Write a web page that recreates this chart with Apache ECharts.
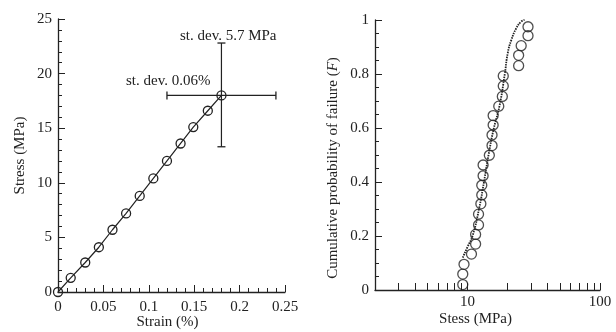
<!DOCTYPE html>
<html>
<head>
<meta charset="utf-8">
<script src="https://cdn.jsdelivr.net/npm/echarts@6/dist/echarts.min.js"></script>
<style>
  html, body { margin: 0; padding: 0; background: #fff; }
  #chart { width: 616px; height: 332px; }
</style>
</head>
<body>
<div id="chart"></div>
<script>
// left panel: stress-strain
const strain = [0, 0.014, 0.030, 0.045, 0.060, 0.075, 0.090, 0.105, 0.120, 0.135, 0.149, 0.165, 0.180]
const stress = [0, 1.3, 2.7, 4.1, 5.7, 7.2, 8.8, 10.4, 12.0, 13.6, 15.1, 16.6, 18.0]
const strainErr = [0.12, 0.24]
const stressErr = [13.3, 22.8]

// right panel: cumulative probability of failure
const failStress = [9.2, 9.2, 9.4, 10.7, 11.5, 11.5, 12.1, 12.1, 12.6, 12.8, 12.8, 13.1, 13.1,
  14.6, 15.3, 15.3, 15.6, 15.6, 17.2, 18.3, 18.6, 18.6, 24.3, 24.3, 25.4, 28.6, 28.6]
const failProb = [0.02, 0.059, 0.095, 0.133, 0.17, 0.206, 0.241, 0.281, 0.319, 0.352, 0.388, 0.423, 0.463,
  0.499, 0.535, 0.574, 0.611, 0.646, 0.681, 0.717, 0.756, 0.793, 0.831, 0.869, 0.905, 0.942, 0.975]
const fitStress = [9.2, 10, 10.9, 12.2, 13.3, 14.4, 15.8, 17.4, 19.1, 20.1, 21.4, 23.3, 25.4, 26.9]
const fitProb = [0.12, 0.16, 0.2, 0.3, 0.4, 0.5, 0.6, 0.68, 0.8, 0.877, 0.926, 0.969, 0.994, 1.0]

const logTicks = [2, 3, 4, 5, 6, 7, 8, 9, 10, 20, 30, 40, 50, 60, 70, 80, 90, 100]

const font = 'Liberation Serif'
const ink = '#222'

const axisCommon = {
  nameMoveOverlap: false,
  axisLine: { lineStyle: { color: ink, width: 1.3 } },
  axisTick: { inside: true, length: 7, lineStyle: { color: ink, width: 1 } },
  minorTick: { show: true, splitNumber: 5, length: 4, lineStyle: { color: ink, width: 1 } },
  axisLabel: { color: ink, fontFamily: font, fontSize: 15, margin: 6 },
  splitLine: { show: false },
  nameTextStyle: { color: ink, fontFamily: font, fontSize: 15 }
}

const pair = (xs, ys) => xs.map((x, i) => [x, ys[i]])

const chart = echarts.init(document.getElementById('chart'))
chart.setOption({
  backgroundColor: '#fff',
  animation: false,
  grid: [
    { left: 58, top: 19, width: 227, height: 273, outerBoundsMode: 'none', containLabel: false },
    { left: 375, top: 20, width: 225, height: 270, outerBoundsMode: 'none', containLabel: false }
  ],
  xAxis: [
    {
      ...axisCommon, gridIndex: 0, type: 'value', min: 0, max: 0.25, interval: 0.05,
      axisLabel: { ...axisCommon.axisLabel, margin: 8 },
      name: 'Strain (%)', nameLocation: 'middle', nameGap: 23,
      nameTextStyle: { ...axisCommon.nameTextStyle, padding: [0, 8, 0, 0] }
    },
    {
      ...axisCommon, gridIndex: 1, type: 'log', logBase: 10, min: 2, max: 100,
      axisTick: { ...axisCommon.axisTick, customValues: logTicks },
      minorTick: { show: false },
      axisLabel: { ...axisCommon.axisLabel, margin: 5, customValues: [10, 100] },
      name: 'Stess (MPa)', nameLocation: 'middle', nameGap: 22,
      nameTextStyle: { ...axisCommon.nameTextStyle, padding: [0, 24, 0, 0] }
    }
  ],
  yAxis: [
    {
      ...axisCommon, gridIndex: 0, type: 'value', min: 0, max: 25, interval: 5,
      name: 'Stress (MPa)', nameLocation: 'middle', nameGap: 30
    },
    {
      ...axisCommon, gridIndex: 1, type: 'value', min: 0, max: 1, interval: 0.2,
      minorTick: { ...axisCommon.minorTick, splitNumber: 4 },
      name: '{n|Cumulative probability of failure (}{i|F}{n|)}', nameLocation: 'middle', nameGap: 34,
      nameTextStyle: {
        padding: [0, 26, 0, 0],
        rich: {
          n: { fontFamily: font, fontSize: 15, color: ink },
          i: { fontFamily: font, fontSize: 15, color: ink, fontStyle: 'italic' }
        }
      }
    }
  ],
  graphic: [
    { type: 'text', left: 180, top: 29, style: { text: 'st. dev. 5.7 MPa', fontFamily: font, fontSize: 15, fill: ink } },
    { type: 'text', left: 126, top: 74, style: { text: 'st. dev. 0.06%', fontFamily: font, fontSize: 15, fill: ink } }
  ],
  series: [
    {
      type: 'line', xAxisIndex: 0, yAxisIndex: 0,
      data: pair(strainErr, [stress[12], stress[12]]),
      symbol: 'rect', symbolSize: [1.3, 8],
      lineStyle: { color: ink, width: 1.2 }, itemStyle: { color: ink }
    },
    {
      type: 'line', xAxisIndex: 0, yAxisIndex: 0,
      data: pair([strain[12], strain[12]], stressErr),
      symbol: 'rect', symbolSize: [8, 1.3],
      lineStyle: { color: ink, width: 1.2 }, itemStyle: { color: ink }
    },
    {
      type: 'line', xAxisIndex: 0, yAxisIndex: 0,
      data: pair(strain, stress),
      symbol: 'circle', symbolSize: 9,
      lineStyle: { color: ink, width: 1.2 },
      itemStyle: { color: 'rgba(0,0,0,0)', borderColor: ink, borderWidth: 1.3 }
    },
    {
      type: 'line', xAxisIndex: 1, yAxisIndex: 1,
      data: pair(fitStress, fitProb),
      smooth: true, showSymbol: false,
      lineStyle: { color: ink, width: 1.8, type: [1.5, 1] }
    },
    {
      type: 'scatter', xAxisIndex: 1, yAxisIndex: 1,
      data: pair(failStress, failProb),
      symbol: 'circle', symbolSize: 10,
      itemStyle: { color: 'rgba(0,0,0,0)', borderColor: ink, borderWidth: 1.3 }
    }
  ]
})
</script>
</body>
</html>
